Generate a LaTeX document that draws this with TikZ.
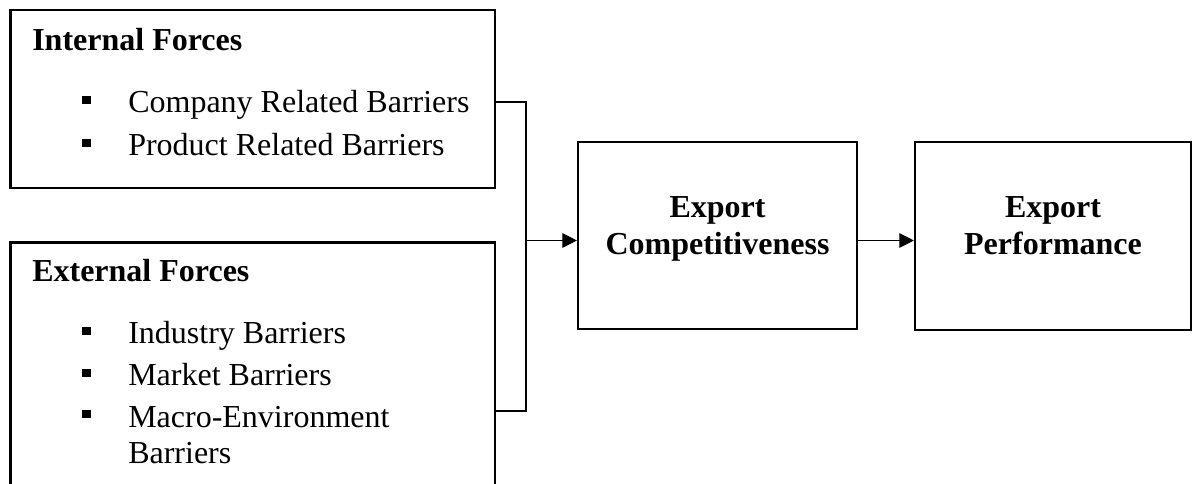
\documentclass[tikz,border=0pt]{standalone}
\usepackage{fontspec}
\setmainfont{Liberation Serif}
\usetikzlibrary{arrows.meta}

\begin{document}
\begin{tikzpicture}[x=0.75pt,y=-0.75pt,
  box/.style={draw=black, line width=1.6pt, rectangle, inner sep=0pt, fill=white},
  conn/.style={draw=black, line width=0.9pt},
  flow/.style={conn, -{Triangle[length=11pt,width=11pt]}},
  head/.style={font=\fontsize{24pt}{27.75pt}\selectfont\bfseries, inner sep=0pt, anchor=base west},
  item/.style={font=\fontsize{24pt}{27.75pt}\selectfont, inner sep=0pt, anchor=base west},
  title/.style={font=\fontsize{24pt}{27.75pt}\selectfont\bfseries, inner sep=0pt, anchor=base},
  dot/.style={rectangle, fill=black, inner sep=0pt, minimum size=6.4pt}]

\useasboundingbox (0,0) rectangle (1192,484);
\clip (0,0) rectangle (1192,484);

% boxes
\node[box, minimum width=363.4pt, minimum height=133.5pt] (int) at (252.75,99) {};
\node[box, minimum width=363.4pt, minimum height=193.1pt] (ext) at (252.75,371.25) {};
\node[box, minimum width=209.25pt, minimum height=140.25pt] (comp) at (717.5,235.5) {};
\node[box, minimum width=207pt, minimum height=141pt] (perf) at (1053,236) {};

% internal forces
\node[head] (inth) at (32,51) {Internal Forces};
\node[dot] (ib1) at (86.5,100) {};
\node[item] (it1) at (128,113) {Company Related Barriers};
\node[dot] (ib2) at (86.5,143) {};
\node[item] (it2) at (128,156) {Product Related Barriers};

% external forces
\node[head] (exth) at (32,282) {External Forces};
\node[dot] (eb1) at (86.5,331) {};
\node[item] (et1) at (128,344) {Industry Barriers};
\node[dot] (eb2) at (86.5,373) {};
\node[item] (et2) at (128,386) {Market Barriers};
\node[dot] (eb3) at (86.5,414) {};
\node[item] (et3) at (128,427) {Macro-Environment};
\node[item] (et4) at (128,463) {Barriers};

% outcome boxes
\node[title] (ct1) at (717.5,218) {Export};
\node[title] (ct2) at (717.5,255) {Competitiveness};
\node[title] (pt1) at (1053,218) {Export};
\node[title] (pt2) at (1053,255) {Performance};

% connectors
\coordinate (jt) at (526,102);
\coordinate (jm) at (526,240.5);
\coordinate (jb) at (526,411);
\draw[conn] (int.east |- jt) -- (jt) -- (jb) -- (ext.east |- jb);
\draw[flow] (jm) -- (comp.west |- jm);
\draw[flow] (comp.east |- jm) -- (perf.west |- jm);
\end{tikzpicture}
\end{document}
